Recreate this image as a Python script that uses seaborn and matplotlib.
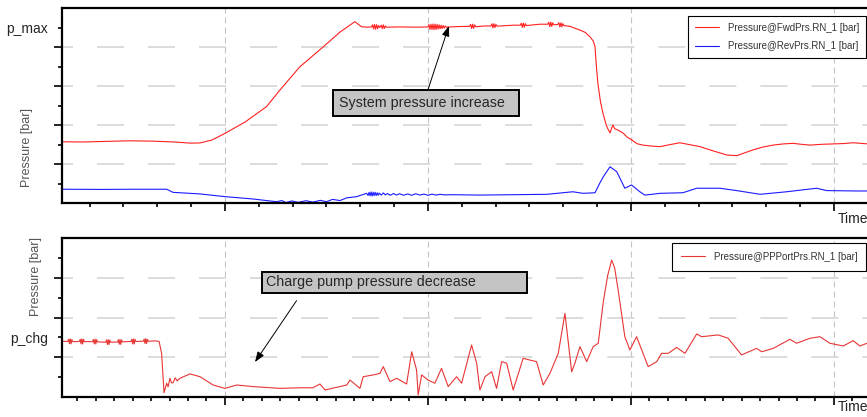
import matplotlib
matplotlib.use("Agg")
from matplotlib import pyplot as plt
from matplotlib.ticker import MultipleLocator
import seaborn as sns

# top panel: forward / reverse pressure
fwd_x = [1.96, 3.0, 4.5, 5.3, 6.5, 7.5, 8.3, 8.77, 9.36, 10.0, 10.99, 12.05, 12.71, 13.69, 14.83, 15.67, 16.4,
         16.73, 17.0, 17.22, 17.27, 17.32, 17.37, 17.42, 17.47, 17.52, 17.57, 17.62,
         17.7, 17.75, 17.8, 17.85, 17.9, 17.95, 18.6, 19.5,
         20.0, 20.05, 20.1, 20.15, 20.2, 20.25, 20.3, 20.35, 20.4, 20.45, 20.5, 20.55, 20.6, 20.65,
         20.7, 20.75, 20.8, 20.85, 20.9, 21.5,
         22.05, 22.1, 22.15, 22.2, 22.25, 22.3, 22.35, 22.8,
         23.1, 23.15, 23.2, 23.25, 23.3, 23.35, 23.4, 24.2,
         24.55, 24.6, 24.65, 24.7, 24.75, 24.8, 24.85, 25.5,
         25.9, 25.95, 26.0, 26.05, 26.1, 26.15, 26.2,
         26.4, 26.45, 26.5, 26.55, 26.6, 26.65, 26.7,
         27.0, 27.49, 27.75, 27.98, 28.15, 28.23, 28.3, 28.37, 28.5,
         28.62, 28.8, 28.97, 29.05, 29.11, 29.2, 29.36, 29.61, 29.8, 30.05, 30.3, 30.59, 31.0, 31.43,
         31.9, 32.41, 32.9, 33.4, 34.0, 34.73, 35.22, 35.6, 36.0, 36.5, 37.0, 37.5, 37.98, 38.4, 38.82,
         39.4, 39.95, 40.5, 40.94, 41.63, 42.5, 44.0]
fwd_y = [3.15, 3.14, 3.18, 3.2, 3.18, 3.14, 3.08, 3.09, 3.24, 3.58, 4.16, 4.95, 5.8, 6.99, 8.0, 8.77, 9.3,
         9.04, 9.02, 9.03, 9.14, 8.93, 9.16, 8.91, 9.15, 8.94, 9.1, 9.0,
         9.12, 8.94, 9.14, 8.95, 9.08, 9.02, 9.03, 9.02,
         9.03, 9.15, 8.91, 9.17, 8.9, 9.18, 8.89, 9.18, 8.9, 9.16, 8.92, 9.14, 8.94, 9.12,
         8.95, 9.1, 8.97, 9.08, 9.02, 9.05,
         9.06, 9.16, 8.95, 9.17, 8.96, 9.14, 9.04, 9.08,
         9.08, 9.19, 8.98, 9.2, 9.0, 9.16, 9.07, 9.12,
         9.12, 9.22, 9.01, 9.23, 9.02, 9.2, 9.1, 9.17,
         9.17, 9.27, 9.05, 9.28, 9.06, 9.24, 9.14,
         9.16, 9.25, 9.03, 9.24, 9.04, 9.2, 9.1,
         9.06, 8.87, 8.75, 8.53, 8.3, 8.02, 7.0, 6.16, 5.2,
         4.62, 3.95, 3.6, 3.85, 4.01, 3.82, 3.75, 3.6, 3.4, 3.24, 3.05, 2.98, 2.93, 2.9,
         3.0, 3.1, 3.0, 2.9, 2.7, 2.47, 2.44, 2.58, 2.73, 2.88, 2.98, 3.04, 3.07, 3.02, 2.98,
         3.02, 3.04, 3.06, 3.1, 3.04, 3.06, 3.05]

rev_x = [1.96, 4.0, 5.5, 7.13, 7.44, 8.77, 10.0, 11.38, 12.55, 12.8, 13.0, 13.3, 13.6, 14.0, 14.33, 14.7,
         15.0, 15.3, 15.67, 16.0, 16.49, 16.98, 17.05, 17.1, 17.15, 17.2, 17.25, 17.3, 17.35, 17.4,
         17.45, 17.5, 17.55, 17.6, 17.7, 17.8, 17.9, 18.0, 18.15, 18.3, 18.45, 18.6, 18.8, 19.0,
         19.2, 19.4, 19.6, 19.8, 20.0, 20.2, 20.4, 20.6, 20.8, 21.2, 22.56, 25.86, 27.14, 27.64,
         28.23, 28.47, 28.64, 28.97, 29.3, 29.7, 30.03, 30.44, 30.69, 31.43, 32.56, 33.24, 34.38,
         35.21, 36.36, 37.67, 39.15, 39.64, 41.13, 44.0]
rev_y = [0.72, 0.71, 0.72, 0.72, 0.56, 0.48, 0.34, 0.22, 0.08, 0.14, 0.04, 0.12, 0.05, 0.13, 0.06, 0.15,
         0.08, 0.2, 0.14, 0.28, 0.34, 0.51, 0.4, 0.56, 0.38, 0.58, 0.37, 0.57, 0.39, 0.56,
         0.4, 0.54, 0.41, 0.52, 0.42, 0.53, 0.43, 0.5, 0.41, 0.5, 0.42, 0.49, 0.41, 0.48,
         0.41, 0.49, 0.42, 0.47, 0.41, 0.47, 0.42, 0.46, 0.43, 0.44, 0.42, 0.46, 0.59, 0.51,
         0.54, 1.04, 1.36, 1.87, 1.62, 0.77, 0.94, 0.59, 0.42, 0.51, 0.54, 0.77, 0.77,
         0.65, 0.46, 0.59, 0.77, 0.65, 0.63, 0.63]

# bottom panel: charge pump port pressure
pp_x = [1.96, 2.26, 2.3, 2.34, 2.38, 2.42, 2.46, 2.5, 2.83, 2.87, 2.91, 2.95, 2.99, 3.03, 3.07,
        3.48, 3.52, 3.56, 3.6, 3.64, 3.68, 3.72, 4.13, 4.17, 4.21, 4.25, 4.29, 4.33, 4.37,
        4.71, 4.75, 4.79, 4.83, 4.87, 4.91, 4.95, 5.37, 5.41, 5.45, 5.49, 5.53, 5.57, 5.61,
        5.98, 6.02, 6.06, 6.1, 6.14, 6.18, 6.22, 6.6, 6.76, 6.88, 7.0, 7.13, 7.2, 7.29, 7.37,
        7.45, 7.55, 7.65, 7.78, 8.28, 8.77, 9.42, 10.0, 10.58, 11.39, 12.71, 13.69, 14.33, 14.68,
        14.93, 16.0, 16.16, 16.65, 16.81, 17.31, 17.64, 17.8, 18.13, 18.46, 18.95, 19.2, 19.44,
        19.52, 19.69, 20.01, 20.34, 20.67, 21.0, 21.41, 21.66, 22.15, 22.4, 22.56, 22.81, 23.14,
        23.38, 23.63, 23.88, 24.2, 24.69, 25.02, 25.35, 25.68, 26.01, 26.42, 26.75, 27.08, 27.24,
        27.49, 27.82, 28.14, 28.39, 28.64, 28.85, 29.05, 29.2, 29.37, 29.7, 29.95, 30.28, 30.85,
        31.27, 31.51, 31.84, 32.25, 32.66, 33.24, 33.48, 34.3, 34.79, 35.45, 36.19, 36.44, 37.01,
        37.83, 38.16, 38.82, 39.31, 39.8, 40.46, 40.95, 41.28, 41.63, 43.0, 44.0]
pp_y = [2.8, 2.79, 2.9, 2.68, 2.92, 2.67, 2.89, 2.78, 2.79, 2.9, 2.67, 2.92, 2.66, 2.9, 2.78,
        2.78, 2.89, 2.67, 2.91, 2.66, 2.88, 2.77, 2.75, 2.87, 2.64, 2.88, 2.63, 2.86, 2.75,
        2.76, 2.88, 2.65, 2.89, 2.64, 2.87, 2.77, 2.79, 2.9, 2.67, 2.92, 2.66, 2.9, 2.79,
        2.8, 2.91, 2.69, 2.93, 2.68, 2.9, 2.8, 2.82, 2.78, 2.19, 0.2, 0.68, 0.5, 0.93, 0.7,
        0.71, 0.95, 0.8, 0.93, 1.15, 1.01, 0.59, 0.42, 0.59, 0.51, 0.42, 0.45, 0.45, 0.64,
        0.34, 0.59, 0.84, 0.42, 1.01, 1.1, 1.18, 1.52, 0.76, 0.93, 0.64, 2.27, 1.35,
        0.09, 1.1, 0.84, 0.68, 1.43, 0.51, 1.01, 0.68, 2.61, 1.69, 0.34, 1.01, 1.26,
        0.42, 1.77, 1.69, 0.34, 1.94, 1.85, 1.77, 0.59, 1.18, 2.19, 4.21, 1.26, 1.69,
        2.53, 1.77, 2.53, 2.7, 4.8, 6.1, 6.9, 6.5, 5.39, 3.03, 2.36, 3.03, 1.52,
        1.77, 2.19, 2.19, 2.49, 2.19, 3.17, 3.03, 3.12, 2.95, 2.11, 2.44, 2.27, 2.44,
        2.9, 2.7, 2.95, 3.03, 2.7, 2.56, 2.83, 2.56, 2.7, 2.8, 2.75]

sns.set_style("ticks")
plt.rcParams["font.family"] = ["Liberation Sans", "DejaVu Sans"]

fig = plt.figure(figsize=(8.67, 4.17), dpi=100)
ax1 = fig.add_axes([0.0712, 0.5125, 0.9843, 0.4683])
ax2 = fig.add_axes([0.0712, 0.0487, 0.9843, 0.3798])

sns.lineplot(x=fwd_x, y=fwd_y, ax=ax1, color="#ff2020", lw=0.8, sort=False, estimator=None,
             label="Pressure@FwdPrs.RN_1 [bar]")
sns.lineplot(x=rev_x, y=rev_y, ax=ax1, color="#1a1aff", lw=0.8, sort=False, estimator=None,
             label="Pressure@RevPrs.RN_1 [bar]")
sns.lineplot(x=pp_x, y=pp_y, ax=ax2, color="#e83535", lw=0.8, sort=False, estimator=None,
             label="Pressure@PPPortPrs.RN_1 [bar]")

for ax, ymax, minor_x, lab, name in [(ax1, 10, 10 / 6, 9, "p_max"), (ax2, 8, 10 / 11, 3, "p_chg")]:
    ax.set_xlim(1.96, 44)
    ax.set_ylim(0, ymax)
    ax.xaxis.set_major_locator(MultipleLocator(10))
    ax.xaxis.set_minor_locator(MultipleLocator(minor_x))
    ax.set_xticklabels([])
    majors = list(range(2, ymax, 2))
    ax.set_yticks(majors, labels=[""] * len(majors))
    minors = list(range(1, ymax, 2))
    ax.set_yticks(minors, labels=[name if m == lab else "" for m in minors], minor=True)
    ax.tick_params(which="major", direction="out", length=6, width=1.2, color="black")
    ax.tick_params(which="minor", direction="out", length=3, width=1.2, color="black",
                   labelsize=10, pad=7)
    for s in ax.spines.values():
        s.set_linewidth(1.6)
        s.set_color("black")
    ax.xaxis.grid(True, which="major", color="#c4c4c4", linestyle=(0, (5.4, 3.6)), lw=0.8)
    ax.yaxis.grid(True, which="major", color="#d2d2d2", linestyle=(10.5, (17.7, 15.7)), lw=1.1)
    ax.set_xlabel("Time", fontsize=10, color="#222222", ha="left", va="top")

ax1.xaxis.set_label_coords(0.9096, -0.046)
ax2.xaxis.set_label_coords(0.9096, -0.02)
ax1.set_ylabel("Pressure [bar]", fontsize=9, color="#555555", va="center")
ax1.yaxis.set_label_coords(-0.0407, 0.288)
ax2.set_ylabel("Pressure [bar]", fontsize=9, color="#555555", va="center")
ax2.yaxis.set_label_coords(-0.030, 0.756)

leg1 = ax1.legend(loc="upper right", bbox_to_anchor=(866 / 867, 1 - 16 / 417), bbox_transform=fig.transFigure,
                  fontsize=7, fancybox=False, edgecolor="black", framealpha=1, borderpad=0.7,
                  labelspacing=0.85, handlelength=2.5, handletextpad=0.9, borderaxespad=0,
                  labelcolor="#333333")
leg1.get_frame().set_linewidth(0.8)
leg2 = ax2.legend(loc="upper right", bbox_to_anchor=(866 / 867, 1 - 243 / 417), bbox_transform=fig.transFigure,
                  fontsize=7, fancybox=False, edgecolor="black", framealpha=1, borderpad=0.9,
                  handlelength=2.5, handletextpad=0.9, borderaxespad=0, labelcolor="#333333")
leg2.get_frame().set_linewidth(0.8)

box = dict(boxstyle="square,pad=0.4", fc="#c4c4c4", ec="black", lw=1.4)
ax1.annotate("System pressure increase  ", xy=(21.03, 9.08), xytext=(15.62, 5.14), ha="left", va="center",
             fontsize=10.3, bbox=box,
             arrowprops=dict(arrowstyle="-|>,head_length=0.6,head_width=0.22", color="black", lw=0.7,
                             shrinkA=0, shrinkB=0, relpos=(0.5, 1.0)))
box2 = dict(boxstyle="square,pad=0.25", fc="#c4c4c4", ec="black", lw=1.4)
ax2.annotate("Charge pump pressure decrease            ", xy=(11.48, 1.75), xytext=(12.02, 5.77),
             ha="left", va="center", fontsize=10.3, bbox=box2,
             arrowprops=dict(arrowstyle="-|>,head_length=0.6,head_width=0.22", color="black", lw=0.7,
                             shrinkA=6, shrinkB=0, relpos=(0.148, 0.0)))

fig.savefig("out.png", dpi=100)
